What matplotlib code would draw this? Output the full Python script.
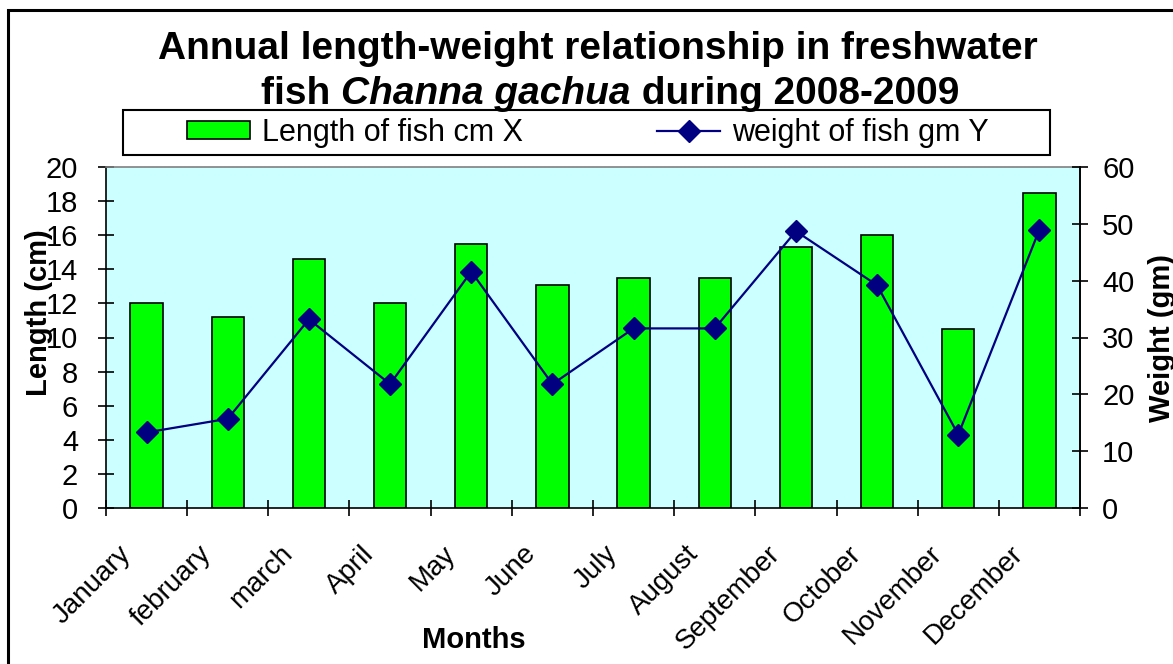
import matplotlib
matplotlib.use("Agg")
import matplotlib.pyplot as plt
from matplotlib.patches import Rectangle, Patch
from matplotlib.lines import Line2D
from matplotlib.transforms import ScaledTranslation
import numpy as np

# Monthly samples, 2008-2009
months = ["January", "february", "march", "April", "May", "June", "July",
          "August", "September", "October", "November", "December"]
length_cm = [12.0, 11.2, 14.6, 12.0, 15.5, 13.1, 13.5, 13.5, 15.3, 16.0, 10.5, 18.5]
weight_gm = [13.3, 15.7, 33.2, 21.8, 41.6, 21.8, 31.6, 31.6, 48.7, 39.2, 12.9, 49.0]

plt.rcParams["font.family"] = ["Liberation Sans", "DejaVu Sans"]

W, H = 1173, 664
fig = plt.figure(figsize=(W / 100, H / 100), dpi=100)


def fx(px):
    return px / W


def fy(py):
    return 1 - py / H


# outer chart frame
fig.add_artist(Rectangle((fx(8), -0.2), 1.2, fy(10) + 0.2, transform=fig.transFigure,
                         fill=False, edgecolor="black", linewidth=2.2, clip_on=False))

ax = fig.add_axes([fx(106), fy(508), fx(1080 - 106), (508 - 167) / H])
ax.set_facecolor("#CCFFFF")
x = np.arange(len(months))
ax.bar(x, length_cm, width=0.4, color="#00FF00", edgecolor="black", linewidth=1.2, zorder=2)
ax.set_xlim(-0.5, 11.5)
ax.set_ylim(0, 20)
ax.set_yticks(range(0, 21, 2))
ax.set_xticks(np.arange(-0.5, 12, 1))
ax.set_xticklabels([])
ax.tick_params(axis="x", direction="inout", length=12, width=1.2)
ax.tick_params(axis="y", direction="inout", length=12, width=1.2, pad=14, labelsize=21)
for side in ["left", "bottom", "right"]:
    ax.spines[side].set_linewidth(1.2)
ax.spines["top"].set_color("#808080")
ax.spines["top"].set_linewidth(1.2)

# month names, slanted and set a little left of their bars
label_shift = ax.get_xaxis_transform() + ScaledTranslation(-0.2, -0.42, fig.dpi_scale_trans)
for xi, name in zip(x, months):
    ax.text(xi, 0, name, transform=label_shift, rotation=45, ha="right", va="center",
            rotation_mode="anchor", fontsize=20)

ax2 = ax.twinx()
ax2.plot(x, weight_gm, color="#000080", linewidth=1.6, marker="D", markersize=11)
ax2.set_ylim(0, 60)
ax2.set_yticks(range(0, 61, 10))
ax2.tick_params(axis="y", direction="inout", length=12, width=1.2, pad=10, labelsize=21)
for side in ["left", "bottom", "top"]:
    ax2.spines[side].set_visible(False)
ax2.spines["right"].set_linewidth(1.2)

# axis titles
fig.text(fx(39), fy(313), "Length (cm)", rotation=90, ha="center", va="center",
         fontsize=21, fontweight="bold")
fig.text(fx(1162), fy(338), "Weight (gm)", rotation=90, ha="center", va="center",
         fontsize=21, fontweight="bold")
fig.text(fx(474), fy(640), "Months", ha="center", va="center", fontsize=21, fontweight="bold")

# legend with its own box
fig.add_artist(Rectangle((fx(123), fy(155)), fx(1050 - 123), (155 - 110) / H,
                         transform=fig.transFigure, facecolor="white", edgecolor="black",
                         linewidth=1.5))
handles = [Patch(facecolor="#00FF00", edgecolor="black", linewidth=1.2),
           Line2D([], [], color="#000080", linewidth=1.6, marker="D", markersize=11)]
fig.legend(handles, ["Length of fish cm X", "weight of fish gm Y"], ncol=2,
           loc="center left", bbox_to_anchor=(fx(187), fy(133)), frameon=False, fontsize=22,
           borderpad=0, borderaxespad=0, handlelength=2.06, handleheight=0.5,
           handletextpad=0.39, columnspacing=4.4)

# two-line title, second line mixes bold and bold italic
renderer = fig.canvas.get_renderer()


def title_line(center_px, baseline_px, parts, size=28):
    texts = [fig.text(0, fy(baseline_px), s, fontsize=size, fontweight="bold",
                      fontstyle=style, va="baseline") for s, style in parts]
    widths = [t.get_window_extent(renderer).width for t in texts]
    left = center_px - sum(widths) / 2
    for t, w in zip(texts, widths):
        t.set_x(fx(left))
        left += w


title_line(598, 59, [("Annual length-weight relationship in freshwater", "normal")])
title_line(610, 104, [("fish ", "normal"), ("Channa gachua", "italic"),
                      (" during 2008-2009", "normal")])

fig.savefig("out.png", dpi=100)
